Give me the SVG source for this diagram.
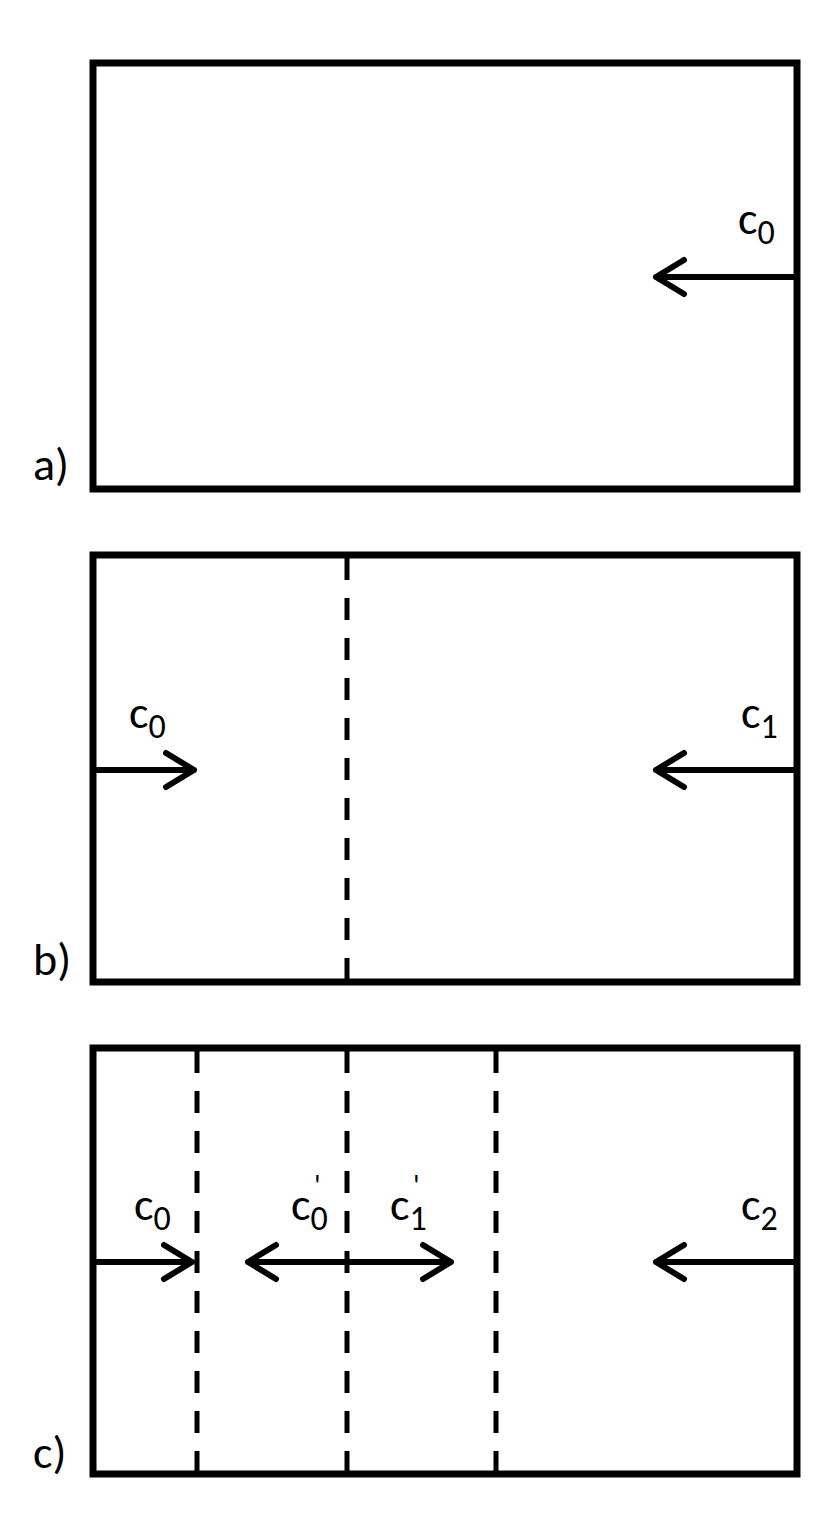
<svg xmlns="http://www.w3.org/2000/svg" width="840" height="1527" viewBox="0 0 840 1527">
<style>
.box{fill:none;stroke:#000;stroke-width:7}
.dash{stroke:#000;stroke-width:5;stroke-dasharray:22 18}
.ar{fill:none;stroke:#000;stroke-width:6;stroke-linecap:round;stroke-linejoin:round}
text{font-family:Carlito,"Liberation Sans",sans-serif;font-size:46px;fill:#000}
.s{font-size:34px}
.p{font-size:30px}
</style>
<rect width="840" height="1527" fill="#fff"/>
<g id="panelA">
<rect class="box" x="93" y="63" width="704" height="426"/>
<text x="33" y="480">a)</text>
</g>
<g id="panelB">
<rect class="box" x="93" y="555" width="704" height="427"/>
<line class="dash" x1="347" y1="558" x2="347" y2="980"/>
<text x="33" y="975">b)</text>
</g>
<g id="panelC">
<rect class="box" x="93" y="1048" width="704" height="426"/>
<line class="dash" x1="197" y1="1051" x2="197" y2="1472"/>
<line class="dash" x1="347" y1="1051" x2="347" y2="1472"/>
<line class="dash" x1="496" y1="1051" x2="496" y2="1472"/>
<text x="33" y="1468">c)</text>
</g>
<g id="connectors">
<path class="ar" d="M797 277H656M684 260L656 277L684 294"/>
<path class="ar" d="M93 770H194M166 753L194 770L166 787"/>
<path class="ar" d="M797 770H656M684 753L656 770L684 787"/>
<path class="ar" d="M93 1262H192M164 1245L192 1262L164 1279"/>
<path class="ar" d="M248 1262H451M276 1245L248 1262L276 1279M423 1245L451 1262L423 1279"/>
<path class="ar" d="M797 1262H656M684 1245L656 1262L684 1279"/>
</g>
<g id="labels">
<text x="738" y="234">c<tspan class="s" dy="10">0</tspan></text>
<text x="129" y="728">c<tspan class="s" dy="10">0</tspan></text>
<text x="741" y="728">c<tspan class="s" dy="10">1</tspan></text>
<text x="134" y="1220">c<tspan class="s" dy="10">0</tspan></text>
<text x="291" y="1220">c<tspan class="s" dy="10">0</tspan></text>
<text class="p" x="314" y="1196">'</text>
<text x="390" y="1220">c<tspan class="s" dy="10">1</tspan></text>
<text class="p" x="413" y="1196">'</text>
<text x="741" y="1220">c<tspan class="s" dy="10">2</tspan></text>
</g>
</svg>
